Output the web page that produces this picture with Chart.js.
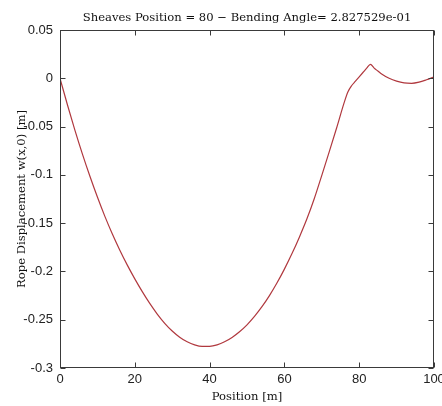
<!DOCTYPE html>
<html>
<head>
<meta charset="utf-8">
<script src="https://cdn.jsdelivr.net/npm/chart.js@4"></script>
<style>
  html, body { margin: 0; padding: 0; background: #fff; }
</style>
</head>
<body>
<canvas id="ropeChart" width="442" height="406"></canvas>

<script>
  // rope position along the span [m] and its transverse displacement w(x,0) [m]
  const positions = [
    0, 2, 4, 6, 8, 10, 12, 14, 16, 18, 20, 22, 24, 26, 28, 30, 32, 34, 36, 38,
    40, 42, 44, 46, 48, 50, 52, 54, 56, 58, 60, 62, 64, 66, 68, 70, 72, 74, 76,
    77, 78, 79, 80, 81, 82, 83, 84, 85, 86, 88, 90, 92, 94, 96, 98, 100
  ];
  const displacement = [
    0, -0.0277, -0.0539, -0.0785, -0.1015, -0.1230, -0.1430, -0.1613, -0.1781, -0.1935,
    -0.2077, -0.2209, -0.2331, -0.2441, -0.2537, -0.2617, -0.2681, -0.2729, -0.2761, -0.2777,
    -0.2776, -0.2760, -0.2729, -0.2684, -0.2625, -0.2553, -0.2466, -0.2365, -0.2250, -0.2120,
    -0.1976, -0.1818, -0.1645, -0.1458, -0.1245, -0.1005, -0.0760, -0.0510, -0.0250,
    -0.0140, -0.0075, -0.0030, 0.0015, 0.0060, 0.0105, 0.0145, 0.0105, 0.0075, 0.0045,
    0.0000, -0.0030, -0.0048, -0.0052, -0.0040, -0.0015, 0.0015
  ];
  const xTicks = [0, 20, 40, 60, 80, 100];
  const yTicks = [0.05, 0, -0.05, -0.1, -0.15, -0.2, -0.25, -0.3];
  const titleText = "Sheaves Position = 80 \u2212 Bending Angle= 2.827529e-01";

  const tickFont = { family: "'Liberation Sans', Arial, sans-serif", size: 13 };
  const labelFont = { family: "'DejaVu Serif', 'Liberation Serif', serif", size: 11.6 };
  const axisColor = "#3a3a3a";

  // box around the axes, inward tick marks on all four sides, title over the axes
  const frameAndTicks = {
    id: "frameAndTicks",
    afterDraw(chart) {
      const { ctx, chartArea: a, scales } = chart;
      const l = Math.round(a.left) + 0.5, r = Math.round(a.right) - 0.5;
      const t = Math.round(a.top) + 0.5, b = Math.round(a.bottom) - 0.5;
      const len = 5;
      ctx.save();
      ctx.strokeStyle = axisColor;
      ctx.lineWidth = 1;
      ctx.strokeRect(l, t, r - l, b - t);
      ctx.beginPath();
      xTicks.forEach((v) => {
        const px = Math.round(scales.x.getPixelForValue(v)) + 0.5;
        ctx.moveTo(px, b); ctx.lineTo(px, b - len);
        ctx.moveTo(px, t); ctx.lineTo(px, t + len);
      });
      yTicks.forEach((v) => {
        const py = Math.round(scales.y.getPixelForValue(v)) + 0.5;
        ctx.moveTo(l, py); ctx.lineTo(l + len, py);
        ctx.moveTo(r, py); ctx.lineTo(r - len, py);
      });
      ctx.stroke();

      ctx.fillStyle = "#111";
      ctx.font = labelFont.size + "px " + labelFont.family;
      ctx.textAlign = "center";
      ctx.textBaseline = "alphabetic";
      ctx.fillText(titleText, (a.left + a.right) / 2, 21);
      ctx.restore();
    },
  };

  const ctx = document.getElementById("ropeChart").getContext("2d");
  new Chart(ctx, {
    type: "line",
    data: {
      datasets: [
        {
          data: positions.map((x, i) => ({ x: x, y: displacement[i] })),
          borderColor: "rgb(176, 56, 62)",
          borderWidth: 1.2,
          pointRadius: 0,
          fill: false,
          cubicInterpolationMode: "monotone",
        },
      ],
    },
    options: {
      responsive: false,
      animation: false,
      devicePixelRatio: 1,
      layout: { padding: { top: 30, right: 8, left: 0, bottom: 0 } },
      plugins: {
        legend: { display: false },
        tooltip: { enabled: false },
        title: { display: false },
      },
      scales: {
        x: {
          type: "linear",
          min: 0,
          max: 100,
          afterBuildTicks: (s) => { s.ticks = xTicks.map((v) => ({ value: v })); },
          afterFit: (s) => { s.height = 38; s.paddingLeft = 0; s.paddingRight = 0; },
          grid: { display: false, drawTicks: false },
          border: { display: false },
          ticks: {
            font: tickFont,
            color: "#222",
            padding: 4,
            maxRotation: 0,
            autoSkip: false,
            callback: (v) => String(v),
          },
          title: {
            display: true,
            text: "Position [m]",
            font: labelFont,
            color: "#111",
            padding: { top: 0, bottom: 2 },
          },
        },
        y: {
          type: "linear",
          min: -0.3,
          max: 0.05,
          afterBuildTicks: (s) => { s.ticks = yTicks.map((v) => ({ value: v })); },
          afterFit: (s) => { s.width = 60; },
          grid: { display: false, drawTicks: false },
          border: { display: false },
          ticks: {
            font: tickFont,
            color: "#222",
            padding: 7,
            autoSkip: false,
            callback: (v) => String(Math.round(v * 100) / 100),
          },
          title: {
            display: true,
            text: "Rope Displacement w(x,0) [m]",
            font: labelFont,
            color: "#111",
            padding: { top: 15, bottom: 0 },
          },
        },
      },
    },
    plugins: [frameAndTicks],
  });
</script>
</body>
</html>
